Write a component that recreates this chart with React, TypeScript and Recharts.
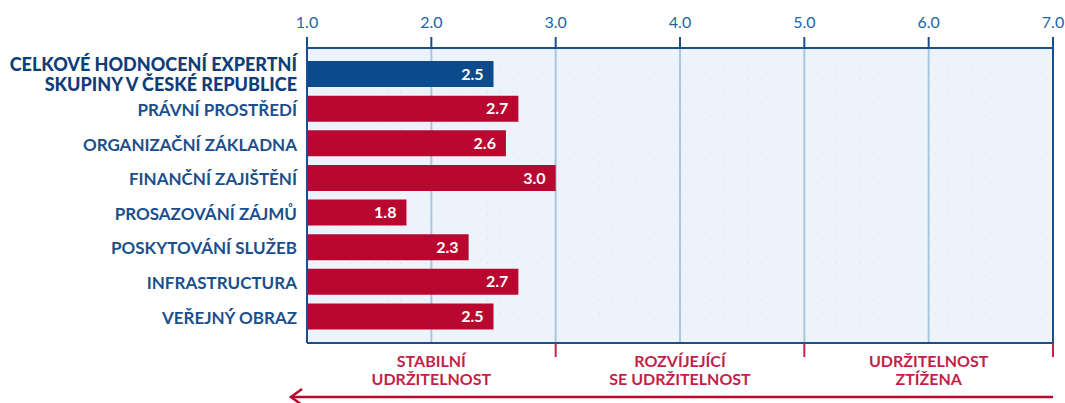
import React from 'react'
import {
  BarChart, Bar, XAxis, YAxis, CartesianGrid, Cell, LabelList, ReferenceArea, ReferenceLine,
} from 'recharts'

const categories = [
  'CELKOVÉ HODNOCENÍ EXPERTNÍ\nSKUPINY V ČESKÉ REPUBLICE',
  'PRÁVNÍ PROSTŘEDÍ',
  'ORGANIZAČNÍ ZÁKLADNA',
  'FINANČNÍ ZAJIŠTĚNÍ',
  'PROSAZOVÁNÍ ZÁJMŮ',
  'POSKYTOVÁNÍ SLUŽEB',
  'INFRASTRUCTURA',
  'VEŘEJNÝ OBRAZ',
]
const scores = [2.5, 2.7, 2.6, 3.0, 1.8, 2.3, 2.7, 2.5]
const scaleTicks = [1, 2, 3, 4, 5, 6, 7]
const zoneTicks = [2, 3, 4, 5, 6, 7]
const zoneLabels: Record<number, string[]> = {
  2: ['STABILNÍ', 'UDRŽITELNOST'],
  4: ['ROZVÍJEJÍCÍ', 'SE UDRŽITELNOST'],
  6: ['UDRŽITELNOST', 'ZTÍŽENA'],
}

const NAVY = '#1b4f8c'
const BLUE_BAR = '#0c4a8e'
const RED_BAR = '#b8082f'
const CRIMSON = '#c21f4a'
const FONT = 'Lato, "Open Sans", sans-serif'

const data = categories.map((name, i) => ({ name, score: scores[i] }))

const CategoryTick = (props: any) => {
  const { x, y, payload, index } = props
  const lines = String(payload.value).split('\n')
  const first = index === 0
  const lh = 20
  const y0 = y - ((lines.length - 1) * lh) / 2
  return (
    <text
      x={x} y={y0} textAnchor="end" dominantBaseline="central"
      fontFamily={FONT} fontSize={first ? 18 : 17} fontWeight={first ? 900 : 700}
      fill={first ? '#0f3d7a' : NAVY}
    >
      {lines.map((l, i) => (
        <tspan key={i} x={x} y={y0 + i * lh}>{l}</tspan>
      ))}
    </text>
  )
}

const ZoneTick = (props: any) => {
  const { x, y, payload } = props
  const v = payload.value as number
  const lbl = zoneLabels[v]
  if (!lbl) {
    return <line x1={x} x2={x} y1={y} y2={y + 14} stroke={CRIMSON} strokeWidth={2} />
  }
  return (
    <text textAnchor="middle" fontFamily={FONT} fontSize={16} fontWeight={700} fill={CRIMSON}>
      <tspan x={x} y={y + 24}>{lbl[0]}</tspan>
      <tspan x={x} y={y + 42}>{lbl[1]}</tspan>
    </text>
  )
}

export default function App() {
  return (
    <div style={{ position: 'absolute', left: 0, top: 0, width: 1065, height: 403, background: '#fff' }}>
      <svg width={0} height={0} style={{ position: 'absolute' }}>
        <defs>
          <pattern id="dots" x={313} y={54} width={12.43} height={12.3} patternUnits="userSpaceOnUse">
            <circle cx={0} cy={0} r={0.8} fill="#b4bfce" />
          </pattern>
        </defs>
      </svg>
      <BarChart
        width={1065} height={403} data={data} layout="vertical"
        margin={{ top: 0, right: 12, bottom: 0, left: 7 }}
        barSize={26}
      >
        <CartesianGrid horizontal={false} stroke="#a9c7e0" strokeWidth={2} fill="#edf3fa" />
        <ReferenceArea x1={1} x2={7} fill="url(#dots)" fillOpacity={1} stroke="none" />
        <XAxis
          type="number" orientation="top" domain={[1, 7]} ticks={scaleTicks}
          height={48} tickSize={11} tickMargin={9}
          tickFormatter={(v: number) => v.toFixed(1)}
          tick={{ fill: '#2065a8', fontSize: 16, fontFamily: FONT }}
          axisLine={{ stroke: NAVY, strokeWidth: 2 }}
          tickLine={{ stroke: NAVY, strokeWidth: 2 }}
        />
        <XAxis
          xAxisId="b" type="number" orientation="bottom" domain={[1, 7]} ticks={zoneTicks}
          allowDataOverflow
          height={60} tickSize={0} tickMargin={0} tickLine={false}
          tick={(p: any) => <ZoneTick {...p} />}
          axisLine={{ stroke: NAVY, strokeWidth: 2 }}
          interval={0}
        />
        <YAxis
          type="category" dataKey="name" width={300}
          padding={{ top: 9, bottom: 9 }}
          tickLine={false} tickSize={0} tickMargin={10}
          axisLine={{ stroke: NAVY, strokeWidth: 2 }}
          tick={<CategoryTick />}
          interval={0}
        />
        <ReferenceLine x={7} stroke={NAVY} strokeWidth={2} />
        <Bar dataKey="score" isAnimationActive={false}>
          {data.map((d, i) => (
            <Cell key={d.name} fill={i === 0 ? BLUE_BAR : RED_BAR} />
          ))}
          <LabelList
            dataKey="score" position="insideRight" offset={10}
            formatter={(v: any) => Number(v).toFixed(1)}
            style={{ fill: '#fff', fontSize: 16, fontWeight: 700, fontFamily: FONT }}
          />
        </Bar>
      </BarChart>
      <svg width={1065} height={403} style={{ position: 'absolute', left: 0, top: 0, pointerEvents: 'none' }}>
        <line x1={292} x2={1053} y1={397} y2={397} stroke={RED_BAR} strokeWidth={2.5} />
        <polyline points="302,389 291,397 302,405" fill="none" stroke={RED_BAR} strokeWidth={2.5} />
      </svg>
    </div>
  )
}
